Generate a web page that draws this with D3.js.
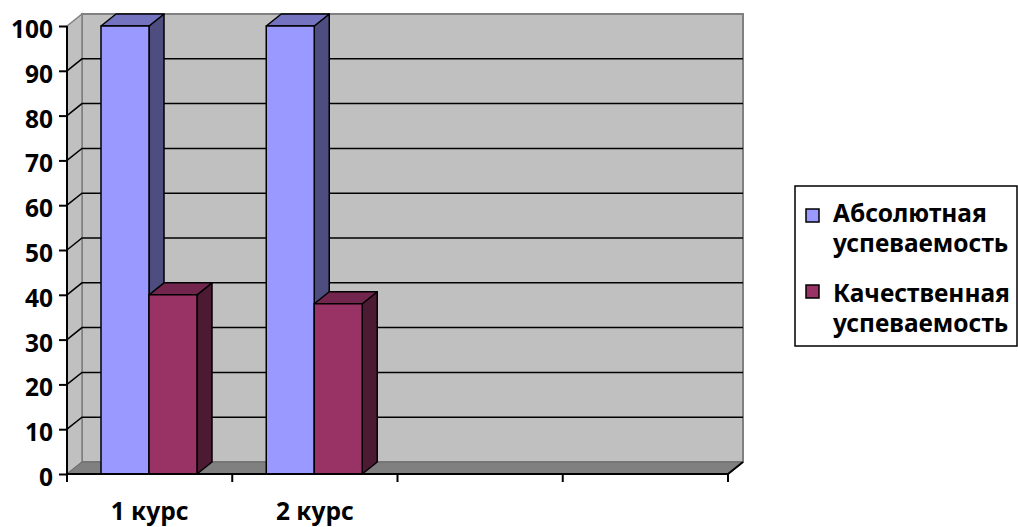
<!DOCTYPE html>
<html><head><meta charset="utf-8">
<script src="https://cdn.jsdelivr.net/npm/d3@7"></script>
<style>body{margin:0;background:#fff}svg{display:block}</style>
</head><body>
<script>
const categories = ["1 курс", "2 курс", "", ""];
const seriesNames = ["Абсолютная успеваемость", "Качественная успеваемость"];
const absValues = [100, 100];
const qualValues = [40, 38];
const yTicks = [0,10,20,30,40,50,60,70,80,90,100];

const W = 1018, H = 527;
const svg = d3.select("body").append("svg").attr("width", W).attr("height", H);
const FONT = "'Noto Sans', sans-serif";
const FS = 24.5;
const x0 = 67, x1 = 728, yBottom = 474, yTop = 26;
const DX = 15, DY = -12;
const y = d3.scaleLinear().domain([0,100]).range([yBottom, yTop]);
const x = d3.scaleBand().domain(d3.range(categories.length)).range([x0, x1]);
const series = [
  {name: seriesNames[0], values: absValues, front: "#9999FF", top: "#7373BF", side: "#4D4D80"},
  {name: seriesNames[1], values: qualValues, front: "#993366", top: "#73264D", side: "#4D1A33"}
];
const poly = pts => "M" + pts.map(p => p.join(",")).join("L") + "Z";

// back wall
svg.append("path").attr("d", poly([[x0+DX, y(100)+DY],[x1+DX, y(100)+DY],[x1+DX, y(0)+DY],[x0+DX, y(0)+DY]]))
  .attr("fill", "#C0C0C0").attr("stroke", "#808080").attr("stroke-width", 2);
// side wall
svg.append("path").attr("d", poly([[x0, y(100)],[x0+DX, y(100)+DY],[x0+DX, y(0)+DY],[x0, y(0)]]))
  .attr("fill", "#C0C0C0").attr("stroke", "#808080").attr("stroke-width", 1.5);
// floor
svg.append("path").attr("d", poly([[x0, y(0)],[x0+DX, y(0)+DY],[x1+DX, y(0)+DY],[x1, y(0)]]))
  .attr("fill", "#808080").attr("stroke", "#6a6a6a").attr("stroke-width", 1);

// gridlines
const grid = svg.append("g");
yTicks.filter(t => t > 0 && t < 100).forEach(t => {
  grid.append("path").attr("d", `M${x0},${y(t)}L${x0+DX},${y(t)+DY}L${x1+DX},${y(t)+DY}`)
    .attr("fill", "none").attr("stroke", "#000").attr("stroke-width", 1.5);
});

// bars
const barW = 48, pad = 34;
categories.forEach((c, i) => {
  series.forEach((s, j) => {
    const v = s.values[i];
    if (v === undefined) return;
    const bx = x(i) + pad + j * barW, bx2 = bx + barW;
    const yt = y(v), yb = y(0);
    const g = svg.append("g").attr("stroke", "#000").attr("stroke-width", 1.5).attr("stroke-linejoin", "round");
    g.append("path").attr("d", poly([[bx2, yb],[bx2+DX, yb+DY],[bx2+DX, yt+DY],[bx2, yt]])).attr("fill", s.side);
    g.append("path").attr("d", poly([[bx, yt],[bx+DX, yt+DY],[bx2+DX, yt+DY],[bx2, yt]])).attr("fill", s.top);
    g.append("rect").attr("x", bx).attr("y", yt).attr("width", barW).attr("height", yb - yt).attr("fill", s.front);
  });
});

// floor front edge + right diagonal
svg.append("path").attr("d", `M${x0},${y(0)}L${x1},${y(0)}L${x1+DX},${y(0)+DY}`)
  .attr("fill", "none").attr("stroke", "#000").attr("stroke-width", 2);

// y axis
const yAxis = d3.axisLeft(y).tickValues(yTicks).tickSize(8).tickPadding(6);
const ga = svg.append("g").attr("transform", `translate(${x0},0)`).call(yAxis);
ga.select(".domain").attr("stroke", "#000").attr("stroke-width", 2).attr("d", `M0,${y(100)}V${y(0)}`);
ga.selectAll(".tick line").attr("stroke", "#000").attr("stroke-width", 2);
ga.selectAll(".tick text").attr("font-family", FONT).attr("font-weight", "bold").attr("font-size", FS)
  .attr("fill", "#000").attr("dy", "0.47em");

// x axis
const xAxis = d3.axisBottom(x).tickSize(0).tickFormat(i => categories[i]);
const gx = svg.append("g").attr("transform", `translate(0,${y(0)})`).call(xAxis);
gx.select(".domain").remove();
gx.selectAll(".tick text").attr("font-family", FONT).attr("font-weight", "bold").attr("font-size", FS)
  .attr("fill", "#000").attr("y", 0).attr("dy", 46);
const bounds = d3.range(categories.length + 1).map(i => i < categories.length ? x(i) : x1);
svg.append("g").selectAll("line").data(bounds).join("line")
  .attr("x1", d => d).attr("x2", d => d).attr("y1", y(0)).attr("y2", y(0) + 8)
  .attr("stroke", "#000").attr("stroke-width", 2);

// legend
const lg = svg.append("g");
lg.append("rect").attr("x", 795).attr("y", 186).attr("width", 222).attr("height", 160)
  .attr("fill", "#fff").attr("stroke", "#000").attr("stroke-width", 1.5);
const items = [
  {s: series[0], lines: ["Абсолютная", "успеваемость"], sqY: 209, base: [222, 252]},
  {s: series[1], lines: ["Качественная", "успеваемость"], sqY: 285, base: [302, 332]}
];
items.forEach(it => {
  lg.append("rect").attr("x", 806).attr("y", it.sqY).attr("width", 13).attr("height", 13)
    .attr("fill", it.s.front).attr("stroke", "#000").attr("stroke-width", 1.5);
  it.lines.forEach((t, k) => {
    lg.append("text").attr("x", 833).attr("y", it.base[k]).text(t)
      .attr("font-family", FONT).attr("font-weight", "bold").attr("font-size", FS).attr("fill", "#000");
  });
});
</script>
</body></html>
